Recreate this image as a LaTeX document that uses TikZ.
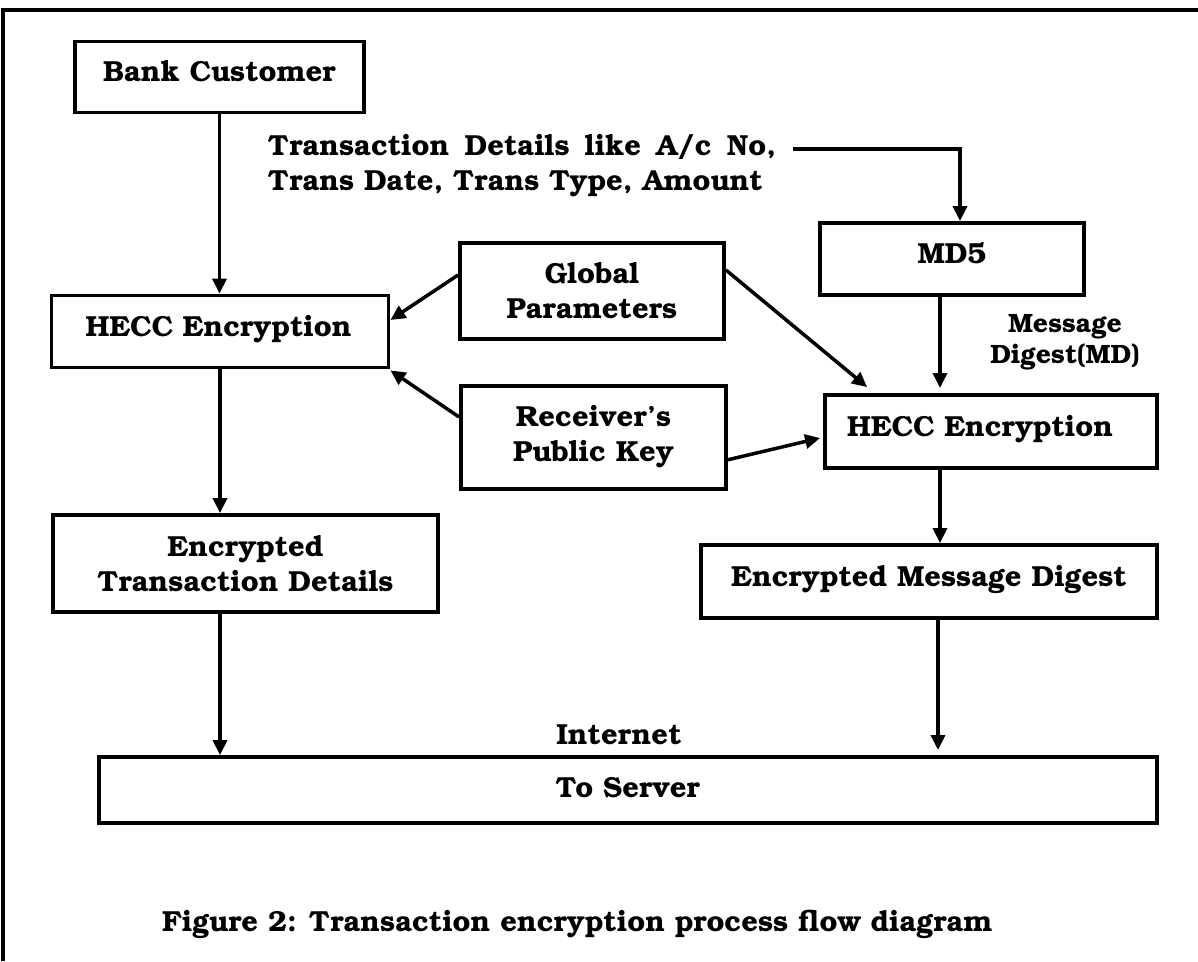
\documentclass[tikz,border=0pt]{standalone}
\usepackage[T1]{fontenc}
\usepackage{bookman}
\usetikzlibrary{arrows.meta,calc}
\newcommand{\flowfont}{\fontsize{29}{35}\selectfont\bfseries}
\newcommand{\mdfont}{\fontsize{26.5}{31}\selectfont\bfseries}
\newcommand{\capfont}{\fontsize{29}{35}\selectfont\bfseries}
\begin{document}
\begin{tikzpicture}[x=1pt,y=-1pt,
  box/.style={draw, rectangle, line width=3.8pt, inner sep=0pt, align=center, font=\flowfont},
  single/.style={text height=13pt, text depth=4pt},
  arr/.style={line width=3.5pt, -{Triangle[length=15pt,width=14pt]}},
  plain/.style={inner sep=0pt, font=\flowfont}]
\useasboundingbox (0,0) rectangle (1198,961);
% outer frame (top and left sides)
\draw[line width=4.5pt] (3,961) -- (3,10) -- (1198,10);

% boxes
\node[box, single, minimum width=289pt, minimum height=71pt] (bank) at (219.5,77) {Bank Customer};
\node[box, single, minimum width=264pt, minimum height=72pt] (md5) at (952,259) {MD5};
\node[box, minimum width=264pt, minimum height=96pt] (glob) at (592,291) {Global\\Parameters};
\node[box, single, minimum height=72pt, text width=269pt, inner xsep=34pt, align=left] (hl) at (220,331.5) {HECC Encryption};
\node[box, minimum width=265pt, minimum height=103pt] (recv) at (593.5,437.5) {Receiver's\\Public Key};
\node[box, single, minimum height=73pt, text width=288pt, inner xsep=22pt, align=left] (hr) at (991,431.5) {HECC Encryption};
\node[box, minimum width=385pt, minimum height=97pt] (etd) at (245.5,563.5) {Encrypted\\Transaction Details};
\node[box, single, minimum width=456pt, minimum height=73pt] (emd) at (929,581.5) {Encrypted Message Digest};
\node[box, single, minimum width=1058pt, minimum height=66pt] (server) at (628,790) {\raisebox{-3pt}{To Server}};

% free labels
\node[plain, anchor=base west] (td1) at (268,155) {\makebox[508pt][s]{Transaction Details like A/c No,}};
\node[plain, anchor=base west] (td2) at (268,190) {Trans Date, Trans Type, Amount};
\node[inner sep=0pt, font=\mdfont, align=center] (mdlbl) at (1065,342) {Message\\Digest(MD)};
\node[plain, anchor=base] (inet) at (619,744) {Internet};
\node[inner sep=0pt, font=\capfont, anchor=base west] (cap) at (162,931) {Figure 2: Transaction encryption process flow diagram};

% connector end points
\coordinate (tin) at (960,0);
\coordinate (mdx) at (940,388);
\coordinate (hx) at (940,0);
\coordinate (ex) at (938,750);

% connectors
\draw[arr] ($(td1.base east)+(17,-6)$) -| (tin |- md5.north);
\draw[arr] (bank.south) -- (bank.south |- hl.north);
\draw[arr] ($(glob.west)+(0,-16)$) -- ($(hl.east)+(0,-11.5)$);
\draw[arr] ($(recv.west)+(0,-20.5)$) -- ($(hl.south east)+(0,1)$);
\draw[arr] ($(glob.east)+(0,-21)$) -- ($(hr.north west)+(44,-6)$);
\draw[arr] ($(recv.east)+(-1,22.5)$) -- ($(hr.west)+(-3,6.5)$);
\draw[arr] (mdx |- md5.south) -- (mdx);
\draw[arr] (hx |- hr.south) -- (hx |- emd.north);
\draw[arr] (hl.south) -- (hl.south |- etd.north);
\draw[arr] (hl.south |- etd.south) -- (hl.south |- server.north);
\draw[arr] (ex |- emd.south) -- (ex);
\end{tikzpicture}
\end{document}
